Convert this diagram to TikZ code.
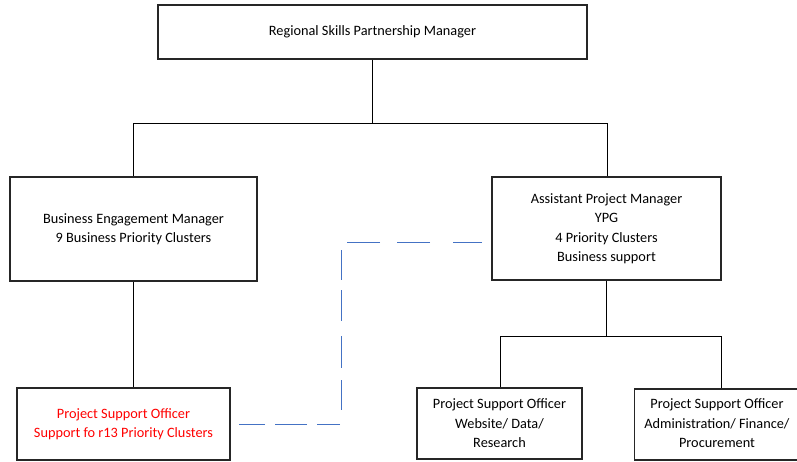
\documentclass[tikz,border=0pt]{standalone}
\usepackage{fontspec}
\setmainfont{Carlito}
\begin{document}
\begin{tikzpicture}[x=1pt,y=-1pt,
  txt/.style={align=center, font=\fontsize{14.3}{19.5}\selectfont, inner sep=0pt},
  box/.style={txt, draw=black!85, line width=1.3pt, fill=white},
  conn/.style={draw=black, line width=0.9pt},
  dashlink/.style={draw={rgb,255:red,68;green,114;blue,196}, line width=0.9pt}]
\useasboundingbox (0,0) rectangle (797,461);
\node[box, minimum width=429, minimum height=54] (top) at (372.5,32) {Regional Skills Partnership Manager};
\node[box, minimum width=247, minimum height=104] (bem) at (133.5,229) {Business Engagement Manager\\9 Business Priority Clusters};
\node[box, minimum width=229, minimum height=103] (apm) at (606.5,228.5) {Assistant Project Manager\\YPG\\4 Priority Clusters\\Business support};
\node[box, text={rgb,255:red,255;green,0;blue,0}, minimum width=213, minimum height=72] (pso1) at (123.5,424) {Project Support Officer\\Support fo r13 Priority Clusters};
\node[box, minimum width=165, minimum height=71] (pso2) at (499.5,423.5) {Project Support Officer\\Website/ Data/\\Research};
\node[box, minimum width=165, minimum height=71, anchor=west] (pso3) at (634,424.5) {};
\node[txt] (pso3t) at (717,423.5) {Project Support Officer\\Administration/ Finance/\\Procurement};
\coordinate (j1) at (372,123);
\coordinate (jl) at (133,123);
\coordinate (jr) at (607,123);
\coordinate (j2) at (606,336);
\coordinate (j2l) at (500,336);
\coordinate (j2r) at (721,336);
\draw[conn] (top.south -| j1) -- (j1);
\draw[conn] (jl) -- (jr);
\draw[conn] (jl) -- (jl |- bem.north);
\draw[conn] (jr) -- (jr |- apm.north);
\draw[conn] (bem.south) -- (bem.south |- pso1.north);
\draw[conn] (apm.south -| j2) -- (j2);
\draw[conn] (j2l) -- (j2r);
\draw[conn] (j2l) -- (j2l |- pso2.north);
\draw[conn] (j2r) -- (j2r |- pso3.north);
\coordinate (d1) at (482,242);
\coordinate (d2) at (347,242);
\coordinate (d3) at (341,250);
\coordinate (d4) at (341,410);
\coordinate (d5) at (340,424);
\coordinate (d6) at (239,424);
\draw[dashlink, dash pattern=on 29pt off 23pt on 33pt off 17pt on 40pt off 0pt] (d1) -- (d2);
\draw[dashlink, dash pattern=on 30pt off 10pt on 31pt off 15pt on 32pt off 12pt on 35pt off 0pt] (d3) -- (d4);
\draw[dashlink, dash pattern=on 23pt off 10pt on 32pt off 10pt on 30pt off 0pt] (d5) -- (d6);
\end{tikzpicture}
\end{document}
